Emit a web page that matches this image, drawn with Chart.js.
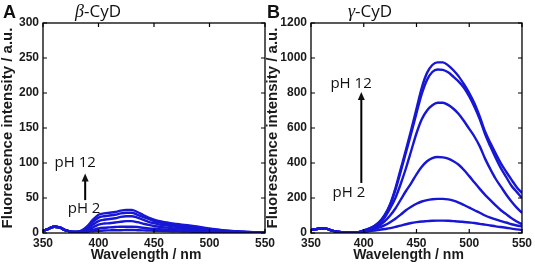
<!DOCTYPE html>
<html>
<head>
<meta charset="utf-8">
<script src="https://cdn.jsdelivr.net/npm/chart.js@4.4.1/dist/chart.umd.min.js"></script>
<style>
	html, body { margin: 0; padding: 0; background: #fff; }
	#wrap { position: relative; width: 535px; height: 267px; overflow: hidden; }
	canvas { position: absolute; top: 0; }
	#chart-a { left: 0; }
	#chart-b { left: 265px; }
	.tag { position: absolute; font-family: "Liberation Sans", Arial, sans-serif; font-weight: bold; font-size: 18px; line-height: 18px; color: #111; }
	.ttl { position: absolute; font-family: "Open Sans", sans-serif; font-size: 17px; line-height: 17px; color: #111; }
	.greek { font-family: "Liberation Serif", serif; font-style: italic; font-size: 18px; }
</style>
</head>
<body>
<div id="wrap">
	<canvas id="chart-a" width="285" height="267"></canvas>
	<canvas id="chart-b" width="270" height="267"></canvas>
	<div class="tag" style="left:3px;top:3px;">A</div>
	<div class="ttl" style="left:75px;top:2px;"><span class="greek">β</span>-CyD</div>
	<div class="tag" style="left:267px;top:3px;">B</div>
	<div class="ttl" style="left:348px;top:2px;"><span class="greek">γ</span>-CyD</div>
</div>
<script>
// Wavelength axis (nm)
const WAVELENGTHS = [350, 355, 360, 365, 370, 375, 380, 385, 390, 395, 400, 405, 410, 415, 420, 425, 430, 435, 440, 445, 450,
	455, 460, 465, 470, 475, 480, 485, 490, 495, 500, 505, 510, 515, 520, 525, 530, 535, 540, 545, 550];

// Panel A, beta-CyD, pH 12 down to pH 2
const BETA_PH12 = [3, 6, 9, 8, 4, 2, 1.5, 4, 10, 19, 26, 28, 29, 30, 32, 33, 33, 30, 26, 22, 19, 17, 15.5, 14, 13, 12, 11, 10, 9, 7.5, 6.5, 5.5, 4.5, 3.5, 3, 2.5, 2, 1.5, 1.2, 1, 1];
const BETA_PH10 = [3, 6, 9, 8, 4, 2, 1.5, 3, 8, 16, 22, 24, 25, 26, 28, 29, 29, 26, 23, 20, 17, 15, 13.5, 12, 11, 10, 9, 8, 7, 6, 5.5, 4.5, 4, 3, 2.5, 2, 1.8, 1.4, 1.1, 1, 0.8];
const BETA_PH8 = [3, 6, 9, 8, 4, 2, 1.5, 2.5, 6, 12, 17, 19, 20, 21, 23, 24, 24, 22, 19, 16, 14, 12, 11, 10, 9, 8, 7, 6.5, 5.5, 5, 4.5, 4, 3.2, 2.6, 2.2, 1.8, 1.5, 1.2, 1, 0.8, 0.6];
const BETA_PH6 = [3, 6, 9, 8, 4, 2, 1.5, 2, 4, 8, 12, 13.5, 14, 15, 16, 17, 17, 15.5, 13.5, 11.5, 10, 9, 8, 7, 6.5, 6, 5.5, 5, 4.5, 4, 3.5, 3, 2.5, 2.2, 1.8, 1.5, 1.2, 1, 0.8, 0.6, 0.5];
const BETA_PH4 = [3, 6, 9, 8, 4, 2, 1.5, 1.5, 2.5, 4.5, 6.5, 7.5, 8, 8.5, 9, 9, 9, 8.5, 7.5, 6.5, 6, 5.5, 5, 4.5, 4, 3.7, 3.4, 3, 2.7, 2.4, 2.1, 1.9, 1.6, 1.4, 1.2, 1, 0.8, 0.7, 0.6, 0.5, 0.4];
const BETA_PH2 = [3, 6, 9, 8, 4, 2, 1.5, 1.2, 1.8, 2.5, 3.2, 3.6, 3.8, 4, 4, 4.2, 4.2, 4, 3.8, 3.5, 3.2, 3, 2.8, 2.6, 2.4, 2.2, 2, 1.8, 1.6, 1.5, 1.3, 1.2, 1, 0.9, 0.8, 0.7, 0.6, 0.5, 0.4, 0.4, 0.3];

// Panel B, gamma-CyD, pH 12 down to pH 2
const GAMMA_PH12 = [17, 22, 27, 24, 14, 7, 4, 2, 2, 5, 15, 25, 40, 65, 105, 165, 255, 365, 475, 590, 710, 830, 915, 960, 975, 975, 958, 930, 895, 850, 800, 740, 665, 580, 515, 455, 398, 350, 305, 262, 228];
const GAMMA_PH10 = [17, 22, 27, 24, 14, 7, 4, 2, 2, 5, 15, 25, 40, 62, 100, 160, 245, 350, 460, 570, 685, 795, 875, 920, 934, 932, 918, 893, 865, 830, 780, 720, 650, 565, 495, 430, 370, 320, 270, 235, 200];
const GAMMA_PH8 = [17, 22, 27, 24, 14, 7, 4, 2, 2, 5, 12, 20, 35, 55, 90, 140, 200, 280, 370, 470, 570, 650, 700, 730, 744, 744, 732, 710, 680, 640, 595, 550, 495, 425, 365, 310, 265, 220, 180, 145, 115];
const GAMMA_PH6 = [17, 22, 27, 24, 14, 7, 4, 2, 2, 5, 10, 18, 30, 45, 68, 100, 140, 190, 240, 285, 335, 378, 410, 428, 434, 432, 425, 410, 390, 360, 325, 288, 252, 218, 188, 158, 130, 108, 85, 66, 50];
const GAMMA_PH4 = [17, 22, 27, 24, 14, 7, 4, 2, 2, 5, 8, 14, 22, 32, 45, 62, 82, 105, 130, 150, 167, 180, 188, 193, 195, 195, 192, 185, 174, 160, 145, 130, 116, 100, 88, 78, 68, 60, 50, 43, 38];
const GAMMA_PH2 = [17, 22, 27, 24, 14, 7, 4, 2, 2, 5, 6, 10, 14, 18, 23, 28, 35, 42, 50, 57, 62, 66, 68, 70, 71, 71, 70, 68, 66, 63, 60, 57, 52, 48, 43, 38, 34, 30, 25, 21, 17];

const BETA_SERIES = [BETA_PH12, BETA_PH10, BETA_PH8, BETA_PH6, BETA_PH4, BETA_PH2];
const GAMMA_SERIES = [GAMMA_PH12, GAMMA_PH10, GAMMA_PH8, GAMMA_PH6, GAMMA_PH4, GAMMA_PH2];

// Axis ranges / ticks
const X_RANGE = [350, 550, 50];
const BETA_Y_RANGE = [0, 300, 50];
const GAMMA_Y_RANGE = [0, 1200, 200];

const LINE_COLOR = "rgb(22, 22, 212)";
const TEXT_COLOR = "#1a1a1a";
const SANS = '"Liberation Sans", Arial, sans-serif';

//---------------------------------------------------------
// Frame with inward ticks, x title + pH annotations
//---------------------------------------------------------
const framePlugin = {
	id: "frame",
	afterDatasetsDraw(chart, args, opts) {
		const { ctx, chartArea: a, scales } = chart;
		const x = scales.x;
		const y = scales.y;
		ctx.save();
		ctx.strokeStyle = "#000";
		ctx.lineWidth = 1.3;
		ctx.strokeRect(a.left, a.top, a.right - a.left, a.bottom - a.top);

		// inward ticks on all four sides
		ctx.lineWidth = 1.2;
		ctx.beginPath();
		x.ticks.forEach((t) => {
			const px = x.getPixelForValue(t.value);
			ctx.moveTo(px, a.bottom);
			ctx.lineTo(px, a.bottom - 4);
			ctx.moveTo(px, a.top);
			ctx.lineTo(px, a.top + 4);
		});
		y.ticks.forEach((t) => {
			const py = y.getPixelForValue(t.value);
			ctx.moveTo(a.left, py);
			ctx.lineTo(a.left + 4, py);
			ctx.moveTo(a.right, py);
			ctx.lineTo(a.right - 4, py);
		});
		ctx.stroke();

		// x axis title, sits a little left of the plot centre
		ctx.fillStyle = TEXT_COLOR;
		ctx.font = `bold 14px ${SANS}`;
		ctx.textAlign = "center";
		ctx.textBaseline = "alphabetic";
		ctx.fillText("Wavelength / nm", (a.left + a.right) / 2 - 8, 259);

		// annotations
		const note = opts.note;
		ctx.fillStyle = "#111";
		ctx.font = '15px "Open Sans", sans-serif';
		ctx.textBaseline = "middle";
		ctx.fillText("pH 12", x.getPixelForValue(note.high[0]), y.getPixelForValue(note.high[1]));
		ctx.fillText("pH 2", x.getPixelForValue(note.low[0]), y.getPixelForValue(note.low[1]));

		// arrow
		const ax = x.getPixelForValue(note.arrow[0]);
		const y0 = y.getPixelForValue(note.arrow[1]);
		const y1 = y.getPixelForValue(note.arrow[2]);
		ctx.strokeStyle = "#000";
		ctx.lineWidth = 2;
		ctx.beginPath();
		ctx.moveTo(ax, y0);
		ctx.lineTo(ax, y1 + 6);
		ctx.stroke();
		ctx.beginPath();
		ctx.moveTo(ax, y1);
		ctx.lineTo(ax - 3.5, y1 + 8);
		ctx.lineTo(ax + 3.5, y1 + 8);
		ctx.closePath();
		ctx.fill();
		ctx.restore();
	},
};

const makeConfig = (series, yRange, yWidth, rightPad, note) => ({
	type: "line",
	data: {
		datasets: series.map((vals) => ({
			data: WAVELENGTHS.map((w, i) => ({ x: w, y: vals[i] })),
			borderColor: LINE_COLOR,
			borderWidth: 2.4,
			pointRadius: 0,
			fill: false,
			cubicInterpolationMode: "monotone",
		})),
	},
	options: {
		responsive: false,
		animation: false,
		layout: {
			padding: { top: 23, right: rightPad, left: 0, bottom: 0 },
		},
		plugins: {
			legend: { display: false },
			tooltip: { enabled: false },
			frame: { note },
		},
		scales: {
			x: {
				type: "linear",
				min: X_RANGE[0],
				max: X_RANGE[1],
				border: { display: false },
				grid: { display: false, drawTicks: false },
				ticks: {
					stepSize: X_RANGE[2],
					padding: 3,
					color: TEXT_COLOR,
					font: { family: SANS, size: 12, weight: "bold" },
					maxRotation: 0,
				},
				afterFit: (s) => {
					s.height = 34;
				},
			},
			y: {
				min: yRange[0],
				max: yRange[1],
				border: { display: false },
				grid: { display: false, drawTicks: false },
				ticks: {
					stepSize: yRange[2],
					padding: 4,
					color: TEXT_COLOR,
					font: { family: SANS, size: 12, weight: "bold" },
					callback: (v) => String(v),
				},
				title: {
					display: true,
					text: "Fluorescence intensity / a.u.",
					color: TEXT_COLOR,
					font: { family: SANS, size: 15, weight: "bold" },
					padding: { top: -1, bottom: 0 },
				},
				afterFit: (s) => {
					s.width = yWidth;
				},
			},
		},
	},
	plugins: [framePlugin],
});

new Chart(document.getElementById("chart-a"),
	makeConfig(BETA_SERIES, BETA_Y_RANGE, 43, 20, { high: [379, 100], low: [387, 34], arrow: [388, 47, 85] }));
new Chart(document.getElementById("chart-b"),
	makeConfig(GAMMA_SERIES, GAMMA_Y_RANGE, 46, 10, { high: [388, 851], low: [386, 229], arrow: [397.7, 286, 806] }));
</script>
</body>
</html>
